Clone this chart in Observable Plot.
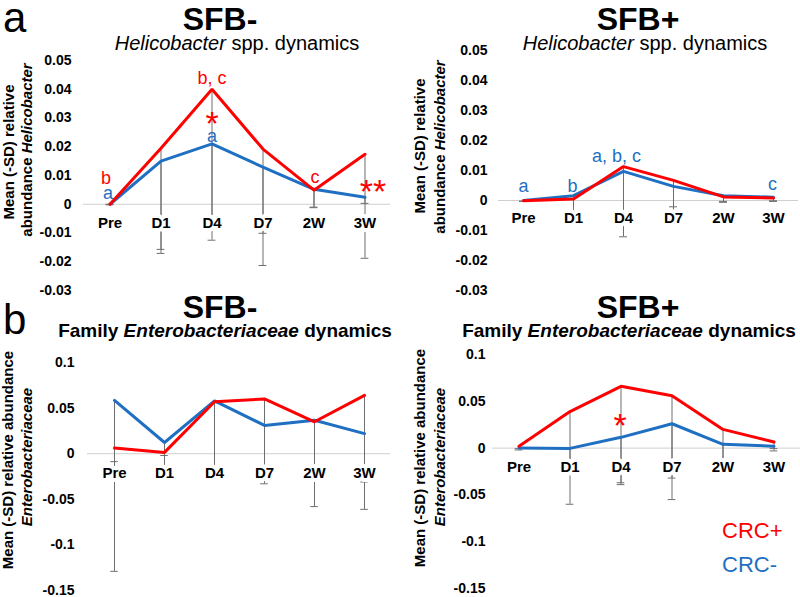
<!DOCTYPE html>
<html>
<head>
<meta charset="utf-8">
<script src="https://cdn.jsdelivr.net/npm/d3@7"></script>
<script src="https://cdn.jsdelivr.net/npm/@observablehq/plot@0.6"></script>
<style>
  body { margin: 0; background: #fff; }
  #wrap { position: relative; width: 800px; height: 597px; overflow: hidden; background: #fff; }
  .panel { position: absolute; }
  .overlay { position: absolute; left: 0; top: 0; pointer-events: none; }
</style>
</head>
<body>
<div id="wrap"></div>
<script>
const FONT = '"Liberation Sans", Arial, Helvetica, sans-serif';
const RED = "#ff0000";
const BLUE = "#1f6fc2";
const GRAY = "#6e6e6e";

const categories = ["Pre", "D1", "D4", "D7", "2W", "3W"];

// a) Helicobacter spp., SFB-
const helicoNeg_crcPos    = [0, 0.0195, 0.040, 0.0192, 0.0049, 0.0174];
const helicoNeg_crcNeg    = [0, 0.015, 0.021, 0.0129, 0.0052, 0.0024];
const helicoNeg_crcPosLow = [-0.0002, -0.0157, -0.0125, -0.0213, -0.001, -0.0188];
const helicoNeg_crcNegLow = [0, -0.0171, -0.006, -0.0101, -0.0012, 0.0003];

// a) Helicobacter spp., SFB+
const helicoPos_crcPos    = [-0.0001, 0.0005, 0.0113, 0.0067, 0.0012, 0.0008];
const helicoPos_crcNeg    = [0, 0.0016, 0.0097, 0.0047, 0.0016, 0.0011];
const helicoPos_crcPosLow = [-0.0002, -0.0035, -0.0121, -0.0021, -0.0003, -0.0001];
const helicoPos_crcNegLow = [-0.0003, -0.004, -0.004, -0.004, -0.0006, -0.0003];

// b) Family Enterobacteriaceae, SFB-
const enteroNeg_crcPos    = [0.0062, 0.0014, 0.057, 0.060, 0.035, 0.064];
const enteroNeg_crcNeg    = [0.0584, 0.0123, 0.058, 0.031, 0.0366, 0.022];
const enteroNeg_crcPosLow = [-0.0087, -0.002, -0.018, -0.033, -0.058, -0.061];
const enteroNeg_crcNegLow = [-0.129, -0.018, -0.018, -0.018, -0.018, -0.031];

// b) Family Enterobacteriaceae, SFB+
const enteroPos_crcPos    = [0.002, 0.039, 0.066, 0.056, 0.020, 0.0065];
const enteroPos_crcNeg    = [0, -0.0003, 0.0115, 0.026, 0.004, 0.002];
const enteroPos_crcPosLow = [-0.002, -0.060, -0.037, -0.055, -0.018, -0.0005];
const enteroPos_crcNegLow = [-0.0006, -0.018, -0.039, -0.032, -0.018, -0.003];

// tick labels
const helicoTicks = [-0.03, -0.02, -0.01, 0, 0.01, 0.02, 0.03, 0.04, 0.05];
const enteroTicks = [-0.15, -0.1, -0.05, 0, 0.05, 0.1];

// significance annotations (category, value position, text, series)
const notesANeg = [
  {cat: "Pre", y: 0.0092, text: "b", s: "CRC+", dx: -4},
  {cat: "Pre", y: 0.004, text: "a", s: "CRC-", dx: -2},
  {cat: "D4", y: 0.044, text: "b, c", s: "CRC+", dx: 0},
  {cat: "D4", y: 0.0235, text: "a", s: "CRC-", dx: 0},
  {cat: "2W", y: 0.0095, text: "c", s: "CRC+", dx: 1}
];
const starsANeg = [
  {cat: "D4", y: 0.0303, text: "*", dx: 0},
  {cat: "3W", y: 0.0066, text: "**", dx: 8}
];
const notesAPos = [
  {cat: "Pre", y: 0.0046, text: "a", s: "CRC-", dx: 0},
  {cat: "D1", y: 0.0046, text: "b", s: "CRC-", dx: -1},
  {cat: "D4", y: 0.0147, text: "a, b, c", s: "CRC-", dx: -7},
  {cat: "3W", y: 0.0053, text: "c", s: "CRC-", dx: -1}
];
const starsBPos = [
  {cat: "D4", y: 0.031, text: "*", dx: -1}
];

function panel(cfg) {
  const rows = categories.map((c, i) => ({
    cat: c, red: cfg.red[i], blue: cfg.blue[i], redLow: cfg.redLow[i], blueLow: cfg.blueLow[i]
  }));
  const bw = (400 - cfg.marginLeft - cfg.marginRight) / categories.length;
  const capInset = bw / 2 - 4;
  const fmt = d => d === 0 ? "0" : String(d);
  const marks = [
    Plot.ruleY([0], {stroke: "#cfcfcf", strokeWidth: 1}),
    Plot.ruleX(rows, {x: "cat", y1: "red", y2: "redLow", stroke: GRAY, strokeWidth: 1}),
    Plot.ruleX(rows, {x: "cat", y1: "blue", y2: "blueLow", stroke: GRAY, strokeWidth: 1}),
    Plot.tickY(rows, {x: "cat", y: "redLow", stroke: GRAY, strokeWidth: 1, insetLeft: capInset, insetRight: capInset}),
    Plot.tickY(rows, {x: "cat", y: "blueLow", stroke: GRAY, strokeWidth: 1, insetLeft: capInset, insetRight: capInset}),
    Plot.text(categories, {
      x: d => d, y: () => 0, dy: cfg.labelDy, text: d => d,
      fill: "black", stroke: "white", strokeWidth: 8,
      fontSize: 15, fontWeight: "bold", fontFamily: FONT
    }),
    Plot.line(rows, {x: "cat", y: "blue", stroke: BLUE, strokeWidth: 3, strokeLinejoin: "miter"}),
    Plot.line(rows, {x: "cat", y: "red", stroke: RED, strokeWidth: 3, strokeLinejoin: "miter"})
  ];
  for (const n of (cfg.notes || [])) marks.push(Plot.text([n], {
    x: "cat", y: "y", text: "text", dx: n.dx,
    fill: n.s === "CRC+" ? RED : BLUE,
    fontSize: 18, fontWeight: "normal", fontFamily: FONT
  }));
  for (const n of (cfg.stars || [])) marks.push(Plot.text([n], {
    x: "cat", y: "y", text: "text", dx: n.dx, dy: 7,
    fill: RED, fontSize: 34, fontWeight: "normal", fontFamily: FONT
  }));
  return Plot.plot({
    width: 400,
    height: cfg.height,
    marginTop: cfg.marginTop,
    marginBottom: cfg.marginBottom,
    marginLeft: cfg.marginLeft,
    marginRight: cfg.marginRight,
    style: {background: "transparent", fontFamily: FONT, fontSize: "14px", fontWeight: "bold", color: "black", overflow: "visible"},
    x: {type: "band", domain: categories, padding: 0, axis: null},
    y: {domain: cfg.domain, ticks: cfg.ticks, tickFormat: fmt, tickSize: 0, tickPadding: cfg.tickPadding, label: null},
    marks
  });
}

const wrap = document.getElementById("wrap");
function place(node, left, top) {
  const d = document.createElement("div");
  d.className = "panel";
  d.style.left = left + "px";
  d.style.top = top + "px";
  d.appendChild(node);
  wrap.appendChild(d);
}

place(panel({
  red: helicoNeg_crcPos, blue: helicoNeg_crcNeg, redLow: helicoNeg_crcPosLow, blueLow: helicoNeg_crcNegLow,
  domain: [-0.03, 0.05], ticks: helicoTicks,
  height: 300, marginTop: 60, marginBottom: 10, marginLeft: 83, marginRight: 10,
  tickPadding: 12, labelDy: 19, notes: notesANeg, stars: starsANeg
}), 0, 0);

place(panel({
  red: helicoPos_crcPos, blue: helicoPos_crcNeg, redLow: helicoPos_crcPosLow, blueLow: helicoPos_crcNegLow,
  domain: [-0.03, 0.05], ticks: helicoTicks,
  height: 300, marginTop: 50, marginBottom: 10, marginLeft: 98, marginRight: 2,
  tickPadding: 11, labelDy: 17.5, notes: notesAPos
}), 400, 0);

place(panel({
  red: enteroNeg_crcPos, blue: enteroNeg_crcNeg, redLow: enteroNeg_crcPosLow, blueLow: enteroNeg_crcNegLow,
  domain: [-0.15, 0.1], ticks: enteroTicks,
  height: 305, marginTop: 72, marginBottom: 5, marginLeft: 87, marginRight: 10,
  tickPadding: 13, labelDy: 19
}), 0, 290);

place(panel({
  red: enteroPos_crcPos, blue: enteroPos_crcNeg, redLow: enteroPos_crcPosLow, blueLow: enteroPos_crcNegLow,
  domain: [-0.15, 0.1], ticks: enteroTicks,
  height: 305, marginTop: 64, marginBottom: 7, marginLeft: 92, marginRight: 0,
  tickPadding: 7, labelDy: 19, stars: starsBPos
}), 400, 290);

// Titles, axis labels and legend
const svg = d3.create("svg")
  .attr("class", "overlay")
  .attr("width", 800).attr("height", 597)
  .style("font-family", FONT);

function txt(x, y, size, weight, anchor, parts, fill = "black", rotate = false) {
  const t = svg.append("text")
    .attr("font-size", size).attr("font-weight", weight)
    .attr("text-anchor", anchor).attr("fill", fill);
  if (rotate) t.attr("transform", `translate(${x},${y}) rotate(-90)`);
  else t.attr("x", x).attr("y", y);
  for (const p of parts) {
    const s = t.append("tspan").text(p.t);
    if (p.i) s.attr("font-style", "italic");
  }
  return t;
}

txt(3, 32, 42, "normal", "start", [{t: "a"}]);
txt(3, 334, 42, "normal", "start", [{t: "b"}]);
txt(220, 30, 32, "bold", "middle", [{t: "SFB-"}]);
txt(638, 30, 32, "bold", "middle", [{t: "SFB+"}]);
txt(220, 318, 32, "bold", "middle", [{t: "SFB-"}]);
txt(638, 318, 32, "bold", "middle", [{t: "SFB+"}]);

txt(237, 50, 20, "normal", "middle", [{t: "Helicobacter", i: true}, {t: " spp. dynamics"}]);
txt(645, 50, 20, "normal", "middle", [{t: "Helicobacter", i: true}, {t: " spp. dynamics"}]);
txt(225, 337, 19, "bold", "middle", [{t: "Family "}, {t: "Enterobacteriaceae", i: true}, {t: " dynamics"}]);
txt(629, 337, 19, "bold", "middle", [{t: "Family "}, {t: "Enterobacteriaceae", i: true}, {t: " dynamics"}]);

// y-axis titles
txt(14, 152, 15, "bold", "middle", [{t: "Mean (-SD) relative"}], "black", true);
txt(32, 150, 15, "bold", "middle", [{t: "abundance "}, {t: "Helicobacter", i: true}], "black", true);
txt(425, 146, 15, "bold", "middle", [{t: "Mean (-SD) relative"}], "black", true);
txt(445, 147, 15, "bold", "middle", [{t: "abundance "}, {t: "Helicobacter", i: true}], "black", true);
txt(13, 460, 15, "bold", "middle", [{t: "Mean (-SD) relative abundance"}], "black", true);
txt(32, 457, 15, "bold", "middle", [{t: "Enterobacteriaceae", i: true}], "black", true);
txt(425, 458, 15, "bold", "middle", [{t: "Mean (-SD) relative abundance"}], "black", true);
txt(445, 457, 15, "bold", "middle", [{t: "Enterobacteriaceae", i: true}], "black", true);

// legend
txt(722, 538, 22, "normal", "start", [{t: "CRC+"}], RED);
txt(722, 572, 22, "normal", "start", [{t: "CRC-"}], BLUE);

wrap.appendChild(svg.node());
</script>
</body>
</html>
